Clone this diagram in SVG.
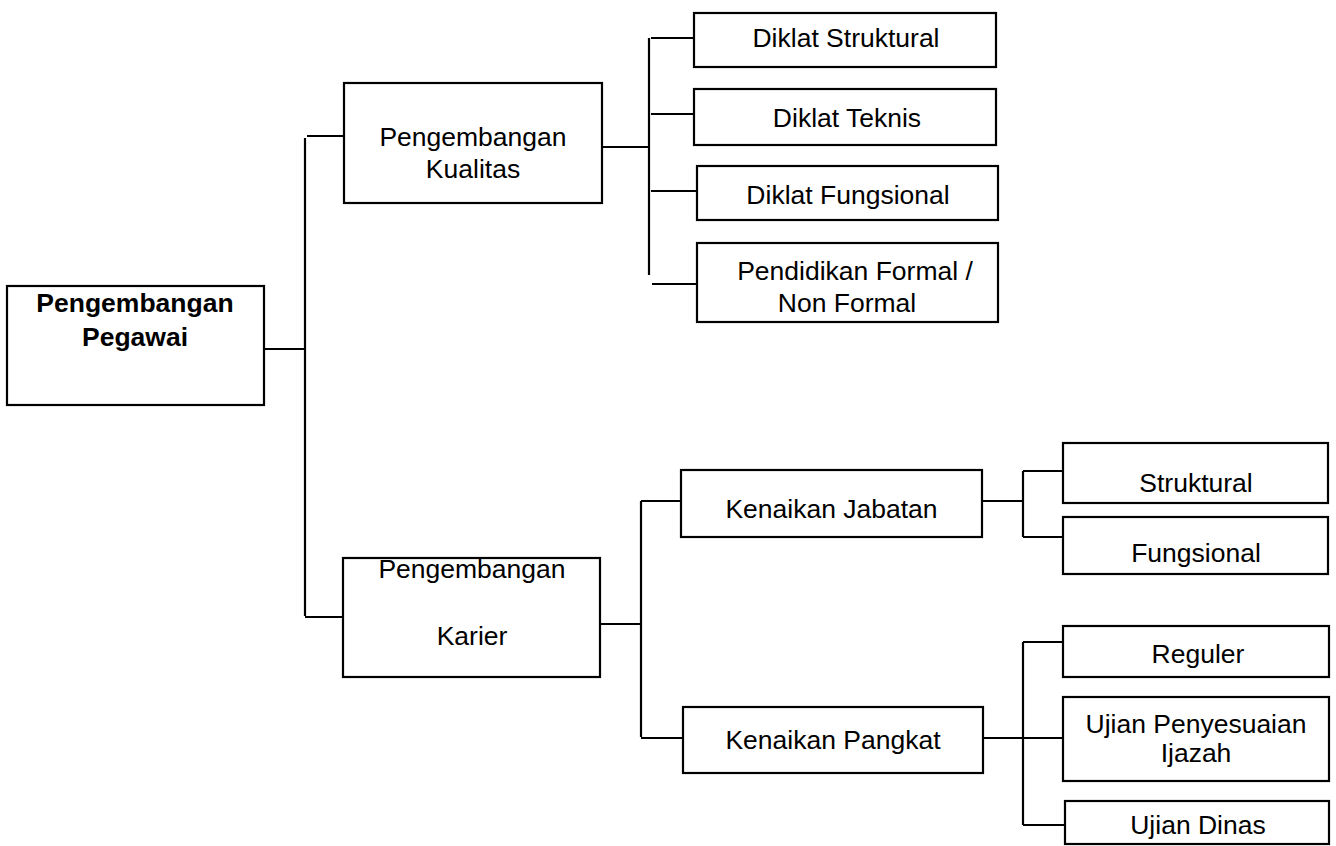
<svg xmlns="http://www.w3.org/2000/svg" width="1336" height="846" viewBox="0 0 1336 846">
<style>
.box{fill:#fff;stroke:#000;stroke-width:2.2}
.t{font-family:"Liberation Sans",Arial,sans-serif;font-size:26.5px;fill:#000;text-anchor:middle}
.b{font-weight:bold}
.c line{stroke:#000;stroke-width:2.2;fill:none}
</style>
<rect width="1336" height="846" fill="#fff"/>
<g class="c" id="connectors">
<line x1="264" y1="349" x2="305" y2="349"/>
<line x1="305" y1="138" x2="305" y2="616"/>
<line x1="307" y1="136" x2="352" y2="136"/>
<line x1="305" y1="617" x2="343" y2="617"/>
<line x1="602" y1="147" x2="649" y2="147"/>
<line x1="649" y1="38" x2="649" y2="275"/>
<line x1="651" y1="38" x2="694" y2="38"/>
<line x1="651" y1="114" x2="694" y2="114"/>
<line x1="651" y1="191" x2="697" y2="191"/>
<line x1="652" y1="284" x2="702" y2="284"/>
<line x1="600" y1="624" x2="641" y2="624"/>
<line x1="641" y1="501" x2="641" y2="737"/>
<line x1="641" y1="501" x2="681" y2="501"/>
<line x1="641" y1="738" x2="683" y2="738"/>
<line x1="982" y1="501" x2="1023" y2="501"/>
<line x1="1023" y1="471" x2="1023" y2="537"/>
<line x1="1023" y1="471" x2="1063" y2="471"/>
<line x1="1023" y1="537" x2="1063" y2="537"/>
<line x1="983" y1="738" x2="1063" y2="738"/>
<line x1="1023" y1="642" x2="1023" y2="825"/>
<line x1="1023" y1="642" x2="1063" y2="642"/>
<line x1="1023" y1="825" x2="1065" y2="825"/>
</g>
<g id="root">
<rect class="box" x="7" y="286" width="257" height="119"/>
<text class="t b" x="135" y="312">Pengembangan</text>
<text class="t b" x="135" y="346">Pegawai</text>
</g>
<g id="kualitas">
<rect class="box" x="344" y="83" width="258" height="120"/>
<text class="t" x="473" y="146">Pengembangan</text>
<text class="t" x="473" y="178">Kualitas</text>
</g>
<g id="diklat-struktural">
<rect class="box" x="694" y="13" width="302" height="54"/>
<text class="t" x="846" y="47">Diklat Struktural</text>
</g>
<g id="diklat-teknis">
<rect class="box" x="694" y="89" width="302" height="56"/>
<text class="t" x="847" y="127">Diklat Teknis</text>
</g>
<g id="diklat-fungsional">
<rect class="box" x="697" y="166" width="301" height="54"/>
<text class="t" x="848" y="204">Diklat Fungsional</text>
</g>
<g id="pendidikan">
<rect class="box" x="697" y="243" width="301" height="79"/>
<text class="t" x="855" y="280">Pendidikan Formal /</text>
<text class="t" x="847" y="312">Non Formal</text>
</g>
<g id="karier">
<rect class="box" x="343" y="558" width="257" height="119"/>
<text class="t" x="472" y="578">Pengembangan</text>
<text class="t" x="472" y="645">Karier</text>
</g>
<g id="kenaikan-jabatan">
<rect class="box" x="681" y="470" width="301" height="67"/>
<text class="t" x="831.5" y="518">Kenaikan Jabatan</text>
</g>
<g id="kenaikan-pangkat">
<rect class="box" x="683" y="707" width="300" height="66"/>
<text class="t" x="833" y="749">Kenaikan Pangkat</text>
</g>
<g id="struktural">
<rect class="box" x="1063" y="443" width="265" height="60"/>
<text class="t" x="1196" y="492">Struktural</text>
</g>
<g id="fungsional">
<rect class="box" x="1063" y="517" width="265" height="57"/>
<text class="t" x="1196" y="562">Fungsional</text>
</g>
<g id="reguler">
<rect class="box" x="1063" y="626" width="266" height="51"/>
<text class="t" x="1198" y="663">Reguler</text>
</g>
<g id="ujian-penyesuaian">
<rect class="box" x="1063" y="697" width="266" height="84"/>
<text class="t" x="1196" y="733">Ujian Penyesuaian</text>
<text class="t" x="1196" y="762">Ijazah</text>
</g>
<g id="ujian-dinas">
<rect class="box" x="1065" y="801" width="264" height="43"/>
<text class="t" x="1198" y="834">Ujian Dinas</text>
</g>
</svg>
